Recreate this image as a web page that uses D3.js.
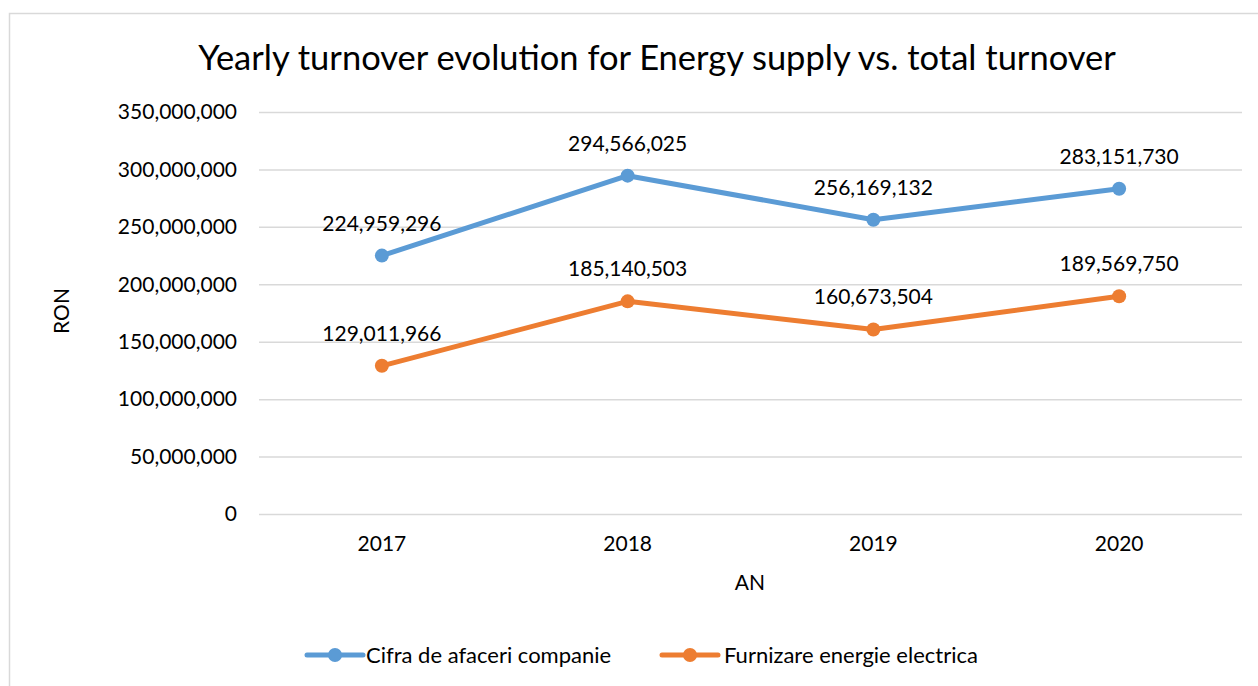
<!DOCTYPE html>
<html>
<head>
<meta charset="utf-8">
<script src="https://cdn.jsdelivr.net/npm/d3@7"></script>
<style>
  html, body { margin: 0; padding: 0; background: #fff; }
  svg { display: block; font-family: Lato, "Open Sans", sans-serif; }
</style>
</head>
<body>
<svg id="chart" width="1258" height="686"></svg>
<script>
// ── data ──────────────────────────────────────────────────────────────
const years = ['2017', '2018', '2019', '2020'];
const totalTurnover = [224959296, 294566025, 256169132, 283151730];
const energySupply = [129011966, 185140503, 160673504, 189569750];
const seriesNames = ['Cifra de afaceri companie', 'Furnizare energie electrica'];
const yTicks = [0, 50000000, 100000000, 150000000, 200000000, 250000000, 300000000, 350000000];

const COLORS = ['#5B9BD5', '#ED7D31'];

// ── layout ────────────────────────────────────────────────────────────
const W = 1258, H = 686;
const plot = { left: 259, right: 1242, top: 112, bottom: 514 };

const svg = d3.select('#chart');

// outer chart border (runs off the right/bottom edges)
svg.append('rect')
  .attr('x', 9.5).attr('y', 13.5)
  .attr('width', W + 20).attr('height', H + 20)
  .attr('fill', '#fff')
  .attr('stroke', '#D9D9D9')
  .attr('stroke-width', 1.5);

const x = d3.scaleBand().domain(years).range([plot.left, plot.right]);
const y = d3.scaleLinear().domain([0, 350000000]).range([plot.bottom, plot.top]);
const fmt = d3.format(',');

// title
svg.append('text')
  .attr('x', 657).attr('y', 70)
  .attr('text-anchor', 'middle')
  .attr('font-size', 34.5)
  .attr('fill', '#000')
  .text('Yearly turnover evolution for Energy supply vs. total turnover');

// gridlines + y tick labels
const yAxis = d3.axisLeft(y)
  .tickValues(yTicks)
  .tickFormat(fmt)
  .tickSize(-(plot.right - plot.left))
  .tickPadding(22);

const gY = svg.append('g')
  .attr('transform', `translate(${plot.left},0)`)
  .call(yAxis);
gY.select('.domain').remove();
gY.selectAll('.tick line').attr('stroke', '#D9D9D9').attr('stroke-width', 1.5);
gY.selectAll('.tick text')
  .attr('font-size', 21)
  .attr('font-family', 'Lato, sans-serif')
  .attr('fill', '#000');

// x axis labels
const xAxis = d3.axisBottom(x).tickSize(0).tickPadding(22);
const gX = svg.append('g')
  .attr('transform', `translate(0,${plot.bottom})`)
  .call(xAxis);
gX.select('.domain').remove();
gX.selectAll('.tick text')
  .attr('font-size', 21)
  .attr('font-family', 'Lato, sans-serif')
  .attr('fill', '#000');

// axis titles
svg.append('text')
  .attr('transform', 'translate(69,311) rotate(-90)')
  .attr('text-anchor', 'middle')
  .attr('font-size', 21)
  .text('RON');

svg.append('text')
  .attr('x', 750).attr('y', 590)
  .attr('text-anchor', 'middle')
  .attr('font-size', 21)
  .text('AN');

// series
const series = [totalTurnover, energySupply];
const line = d3.line()
  .x((d, i) => x(years[i]) + x.bandwidth() / 2)
  .y(d => y(d));

series.forEach((vals, s) => {
  const g = svg.append('g');
  g.append('path')
    .datum(vals)
    .attr('d', line)
    .attr('fill', 'none')
    .attr('stroke', COLORS[s])
    .attr('stroke-width', 5)
    .attr('stroke-linejoin', 'round')
    .attr('stroke-linecap', 'round');

  g.selectAll('circle')
    .data(vals)
    .join('circle')
    .attr('cx', (d, i) => x(years[i]) + x.bandwidth() / 2)
    .attr('cy', d => y(d))
    .attr('r', 7)
    .attr('fill', COLORS[s]);

  g.selectAll('text')
    .data(vals)
    .join('text')
    .attr('x', (d, i) => x(years[i]) + x.bandwidth() / 2)
    .attr('y', d => y(d) - 25)
    .attr('text-anchor', 'middle')
    .attr('font-size', 21)
    .attr('fill', '#000')
    .text(d => fmt(d));
});

// legend
const legendItems = [
  { x: 307, textX: 366 },
  { x: 662, textX: 724 }
];
legendItems.forEach((it, i) => {
  const g = svg.append('g').attr('transform', `translate(${it.x},655)`);
  g.append('line')
    .attr('x1', 0).attr('x2', 56)
    .attr('y1', 0).attr('y2', 0)
    .attr('stroke', COLORS[i])
    .attr('stroke-width', 5)
    .attr('stroke-linecap', 'round');
  g.append('circle')
    .attr('cx', 28).attr('cy', 0).attr('r', 7)
    .attr('fill', COLORS[i]);
  g.append('text')
    .attr('x', it.textX - it.x)
    .attr('y', 0)
    .attr('dy', '0.35em')
    .attr('font-size', 22)
    .attr('fill', '#000')
    .text(seriesNames[i]);
});
</script>
</body>
</html>
